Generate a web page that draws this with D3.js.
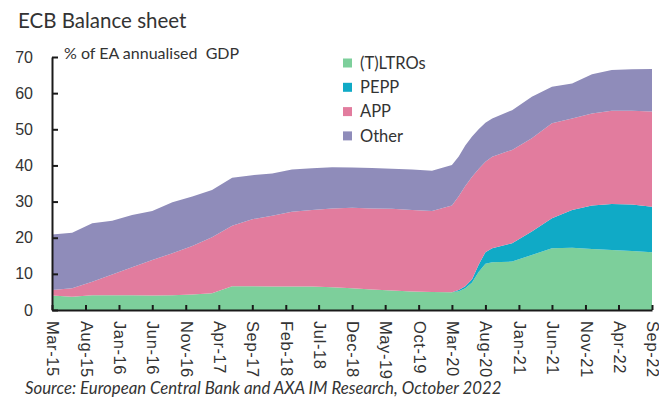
<!DOCTYPE html>
<html>
<head>
<meta charset="utf-8">
<script src="https://cdn.jsdelivr.net/npm/d3@7"></script>
<style>
  body { margin: 0; background: #fff; }
  svg { display: block; font-family: Lato, "Open Sans", sans-serif; }
</style>
</head>
<body>
<div id="chart"></div>
<script>
// monthly dates (sparse, quarterly + extra points around the 2020 jump)
const dates = ["2015-03","2015-06","2015-09","2015-12","2016-03","2016-06","2016-09","2016-12",
  "2017-03","2017-06","2017-09","2017-12","2018-03","2018-06","2018-09","2018-12",
  "2019-03","2019-06","2019-09","2019-12","2020-03","2020-04","2020-05","2020-06",
  "2020-07","2020-08","2020-09","2020-12","2021-03","2021-06","2021-09","2021-12",
  "2022-03","2022-06","2022-09"];
const tltro = [4.0,3.7,4.1,4.1,4.1,4.0,4.1,4.3, 4.6,6.6,6.6,6.5,6.5,6.5,6.3,6.0,
  5.7,5.4,5.1,5.0,4.9,5.2,6.0,7.6, 10.5,12.8,13.2,13.4,15.2,17.1,17.2,16.9, 16.6,16.3,16.0];
const pepp = [0,0,0,0,0,0,0,0, 0,0,0,0,0,0,0,0, 0,0,0,0,0,0.3,0.6,0.9, 2.0,3.2,3.9,5.1,6.5,8.3,10.5,12.0, 12.7,12.9,12.6];
const app = [1.5,2.3,3.7,5.7,7.7,9.8,11.6,13.4, 15.5,16.7,18.5,19.6,20.7,21.2,21.8,22.3,
  22.4,22.6,22.6,22.4,24.0,26.0,27.7,28.4, 26.5,25.0,25.3,25.8,25.8,26.3,25.3,25.5, 25.8,25.9,26.3];
const other = [15.4,15.4,16.2,14.9,14.5,13.6,14.1,13.7, 13.1,13.3,12.2,11.7,11.7,11.5,11.4,11.1,
  11.2,11.1,11.2,11.1,11.2,11.0,11.2,11.1, 11.0,10.8,10.6,11.0,11.5,10.1,9.7,10.8, 11.3,11.5,11.8];
const seriesNames = ["(T)LTROs","PEPP","APP","Other"];
const colors = ["#7dcf9b","#10aac6","#e27c9e","#8f8cba"];
const yTicks = [0,10,20,30,40,50,60,70];

const parse = d3.timeParse("%Y-%m");
const rows = dates.map((d, i) => ({
  date: parse(d), "(T)LTROs": tltro[i], "PEPP": pepp[i], "APP": app[i], "Other": other[i]
}));

const width = 659, height = 403;
const plotLeft = 52, plotRight = 652, plotTop = 57, plotBottom = 310;

const svg = d3.select("#chart").append("svg")
  .attr("width", width).attr("height", height);

const x = d3.scaleTime()
  .domain([parse("2015-03"), parse("2022-09")])
  .range([plotLeft, plotRight]);
const y = d3.scaleLinear().domain([0, 70]).range([plotBottom, plotTop]);

const stacked = d3.stack().keys(seriesNames)(rows);
const area = d3.area()
  .x(d => x(d.data.date))
  .y0(d => y(d[0]))
  .y1(d => y(d[1]));

svg.append("g")
  .selectAll("path")
  .data(stacked)
  .join("path")
  .attr("fill", (d, i) => colors[i])
  .attr("d", area);

// x ticks every 5 months
const xTickVals = d3.range(0, 91, 5).map(m => d3.timeMonth.offset(parse("2015-03"), m));

const xAxis = svg.append("g")
  .attr("transform", `translate(0,${plotBottom})`)
  .call(d3.axisBottom(x).tickValues(xTickVals).tickSizeInner(-5).tickSizeOuter(0)
    .tickFormat(d3.timeFormat("%b-%y")));
xAxis.select(".domain").attr("stroke", "#1a1a1a").attr("stroke-width", 2);
xAxis.selectAll(".tick line").attr("stroke", "#1a1a1a").attr("stroke-width", 2);
xAxis.selectAll(".tick text")
  .attr("transform", "rotate(90)")
  .attr("text-anchor", "start")
  .attr("x", 11).attr("y", 0).attr("dy", "0.33em")
  .attr("font-size", 16.5).attr("letter-spacing", 0.6).attr("fill", "#333");

const yAxis = svg.append("g")
  .attr("transform", `translate(${plotLeft},0)`)
  .call(d3.axisLeft(y).tickValues(yTicks).tickSizeInner(-6).tickSizeOuter(0).tickPadding(19));
yAxis.select(".domain").attr("stroke", "#1a1a1a").attr("stroke-width", 2);
yAxis.selectAll(".tick line").attr("stroke", "#1a1a1a").attr("stroke-width", 2);
yAxis.selectAll(".tick text").attr("font-size", 16).attr("fill", "#333");

svg.append("text")
  .attr("x", 18).attr("y", 28)
  .attr("font-size", 20.5).attr("fill", "#333")
  .text("ECB Balance sheet");

svg.append("text")
  .attr("x", 64).attr("y", 59)
  .attr("font-size", 16).attr("fill", "#333")
  .attr("xml:space", "preserve")
  .text("% of EA annualised  GDP");

// legend
const legend = svg.append("g");
seriesNames.forEach((name, i) => {
  const ly = 63 + i * 24.3;
  legend.append("rect")
    .attr("x", 343).attr("y", ly - 4.5).attr("width", 9).attr("height", 9)
    .attr("fill", colors[i]);
  legend.append("text")
    .attr("x", 360).attr("y", ly).attr("dy", "0.35em")
    .attr("font-size", 16.5).attr("fill", "#333")
    .text(name);
});

svg.append("text")
  .attr("x", 25).attr("y", 394)
  .attr("font-size", 16.8).attr("font-style", "italic").attr("fill", "#333")
  .text("Source: European Central Bank and AXA IM Research, October 2022");
</script>
</body>
</html>
